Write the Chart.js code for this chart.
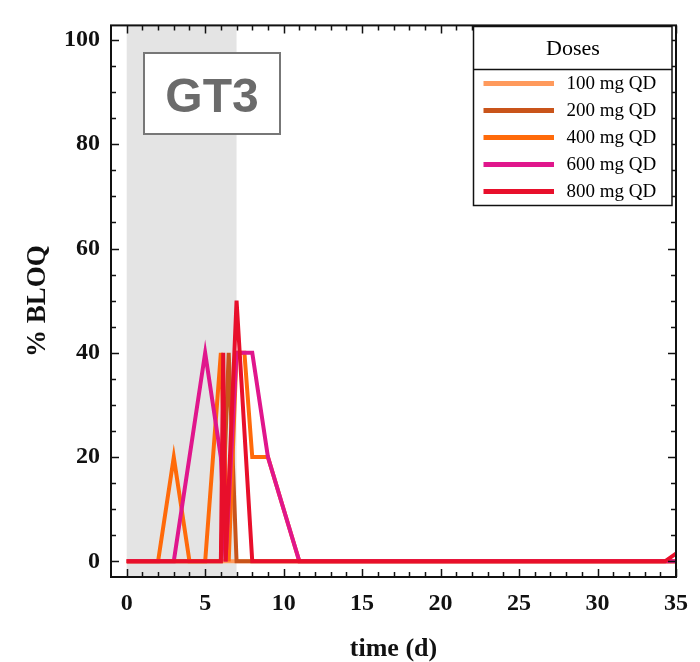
<!DOCTYPE html>
<html>
<head>
<meta charset="utf-8">
<script src="https://cdn.jsdelivr.net/npm/chart.js@4.4.1/dist/chart.umd.min.js"></script>
<style>
  html, body { margin: 0; padding: 0; background: #ffffff; }
  #wrap { width: 700px; height: 662px; }
</style>
</head>
<body>
<div id="wrap"><canvas id="chart" width="700" height="662"></canvas></div>
<script>
// Percentage of samples below the limit of quantification, by dose group
const doseLabels = ['100 mg QD', '200 mg QD', '400 mg QD', '600 mg QD', '800 mg QD'];
const doseColors = ['#ff9a5c', '#c9541a', '#ff6a0a', '#e0168c', '#e80f2b'];

const days100 = [0, 35];
const bloq100 = [0, 0];

const days200 = [0, 6, 6.5, 7, 8, 35];
const bloq200 = [0, 0, 40, 0, 0, 0];

const days400 = [0, 2, 3, 4, 5, 6, 6.5, 7, 7.5, 8, 9, 10, 11, 35];
const bloq400 = [0, 0, 20, 0, 0, 40, 0, 40, 40, 20, 20, 10, 0, 0];

const days600 = [0, 3, 4, 5, 6, 6.3, 7, 8, 9, 10, 11, 35];
const bloq600 = [0, 0, 20, 40, 20, 0, 40, 40, 20, 10, 0, 0];

const days800 = [0, 6, 6.15, 6.3, 7, 8, 34.3, 35];
const bloq800 = [0, 0, 40, 0, 50, 0, 0, 1.5];

const xTickValues = [0, 5, 10, 15, 20, 25, 30, 35];
const yTickValues = [0, 20, 40, 60, 80, 100];
const dosingWindow = [0, 7];
const panelLabel = 'GT3';
const legendTitle = 'Doses';

const seriesDays = [days100, days200, days400, days600, days800];
const seriesBloq = [bloq100, bloq200, bloq400, bloq600, bloq800];

const datasets = doseLabels.map((label, i) => ({
  label,
  data: seriesDays[i].map((d, j) => ({ x: d, y: seriesBloq[i][j] })),
  borderColor: doseColors[i],
  backgroundColor: doseColors[i],
  borderWidth: 4,
  pointRadius: 0,
  tension: 0,
  fill: false,
  order: doseLabels.length - i
}));

const serif = "'Liberation Serif', 'Times New Roman', serif";

const framePlugin = {
  id: 'frame',
  beforeDatasetsDraw(chart) {
    const { ctx, chartArea: a, scales: { x } } = chart;
    const x0 = x.getPixelForValue(dosingWindow[0]);
    const x1 = x.getPixelForValue(dosingWindow[1]);
    ctx.save();
    ctx.fillStyle = '#e4e4e4';
    ctx.fillRect(x0, a.top, x1 - x0, a.bottom - a.top);
    ctx.restore();
  },
  afterDatasetsDraw(chart) {
    const { ctx, chartArea: a, scales: { x, y } } = chart;
    ctx.save();
    ctx.strokeStyle = '#111';
    ctx.lineWidth = 1.5;
    ctx.beginPath();
    // x ticks: major every 5, minor every day, on bottom and top edges
    for (let d = 0; d <= 35; d++) {
      const px = Math.round(x.getPixelForValue(d)) + 0.5;
      const len = xTickValues.includes(d) ? 8 : 5;
      ctx.moveTo(px, a.bottom); ctx.lineTo(px, a.bottom - len);
      ctx.moveTo(px, a.top); ctx.lineTo(px, a.top + len);
    }
    // y ticks: major every 20, minor every 5, on left and right edges
    for (let v = 0; v <= 100; v += 5) {
      const py = Math.round(y.getPixelForValue(v)) + 0.5;
      const len = yTickValues.includes(v) ? 8 : 5;
      ctx.moveTo(a.left, py); ctx.lineTo(a.left + len, py);
      ctx.moveTo(a.right, py); ctx.lineTo(a.right - len, py);
    }
    ctx.stroke();
    ctx.lineWidth = 2;
    ctx.strokeRect(a.left, a.top, a.right - a.left, a.bottom - a.top);
    ctx.restore();
  },
  afterDraw(chart) {
    const { ctx } = chart;
    ctx.save();
    // panel label
    ctx.fillStyle = '#ffffff';
    ctx.fillRect(144, 53, 136, 81);
    ctx.strokeStyle = '#777777';
    ctx.lineWidth = 2;
    ctx.strokeRect(144, 53, 136, 81);
    ctx.fillStyle = '#6b6b6b';
    ctx.font = "bold 48px 'Liberation Sans', Arial, sans-serif";
    ctx.textAlign = 'center';
    ctx.textBaseline = 'alphabetic';
    ctx.fillText(panelLabel, 212, 112);

    // dose legend
    const bx = 473.5, by = 26.5, bw = 198.5, bh = 179;
    ctx.fillStyle = '#ffffff';
    ctx.fillRect(bx, by, bw, bh);
    ctx.strokeStyle = '#111';
    ctx.lineWidth = 1.5;
    ctx.strokeRect(bx, by, bw, bh);
    ctx.beginPath();
    ctx.moveTo(bx, 69.5); ctx.lineTo(bx + bw, 69.5);
    ctx.stroke();
    ctx.fillStyle = '#000';
    ctx.font = `22px ${serif}`;
    ctx.textAlign = 'center';
    ctx.fillText(legendTitle, 573, 55);
    ctx.textAlign = 'left';
    ctx.font = `19px ${serif}`;
    chart.data.datasets.forEach((ds, i) => {
      const ry = 83.5 + i * 27;
      ctx.strokeStyle = ds.borderColor;
      ctx.lineWidth = 5;
      ctx.beginPath();
      ctx.moveTo(483.5, ry); ctx.lineTo(554, ry);
      ctx.stroke();
      ctx.fillStyle = '#000';
      ctx.fillText(ds.label, 566.5, ry + 5);
    });
    ctx.restore();
  }
};

new Chart(document.getElementById('chart'), {
  type: 'line',
  data: { datasets },
  options: {
    responsive: false,
    devicePixelRatio: 1,
    animation: false,
    layout: { padding: { left: 0, top: 8, right: 17, bottom: 0 } },
    plugins: { legend: { display: false }, tooltip: { enabled: false } },
    elements: { line: { borderJoinStyle: 'miter' } },
    scales: {
      x: {
        type: 'linear',
        min: -1,
        max: 35,
        afterFit(s) { s.height = 85; },
        afterBuildTicks(s) { s.ticks = xTickValues.map(v => ({ value: v })); },
        grid: { display: false, drawTicks: false },
        border: { display: false },
        ticks: { color: '#111', padding: 12, maxRotation: 0, font: { family: serif, size: 24, weight: 'bold' } },
        title: { display: true, text: 'time (d)', color: '#111', padding: 0, font: { family: serif, size: 26, weight: 'bold', lineHeight: 1 } }
      },
      y: {
        type: 'linear',
        min: -3,
        max: 102.8,
        afterFit(s) { s.width = 111; },
        afterBuildTicks(s) { s.ticks = yTickValues.map(v => ({ value: v })); },
        grid: { display: false, drawTicks: false },
        border: { display: false },
        ticks: { color: '#111', padding: 11, font: { family: serif, size: 24, weight: 'bold' } },
        title: { display: true, text: '% BLOQ', color: '#111', padding: { top: 25, bottom: 0 }, font: { family: serif, size: 27, weight: 'bold', lineHeight: 1 } }
      }
    }
  },
  plugins: [framePlugin]
});
</script>
</body>
</html>
